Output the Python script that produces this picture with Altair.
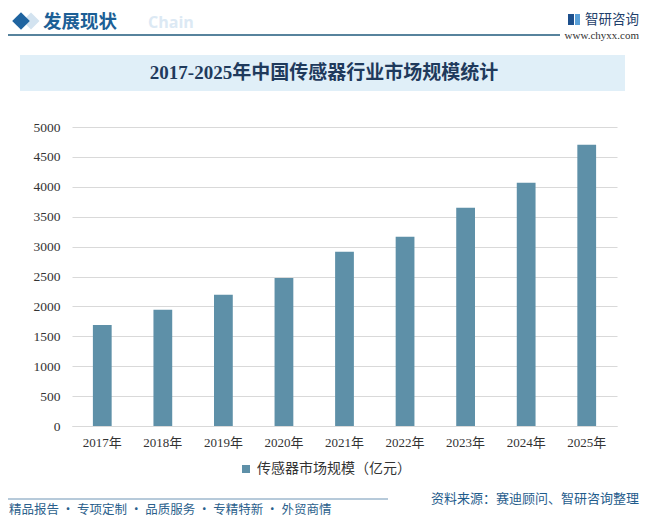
import altair as alt
import pandas as pd

years = ["2017年", "2018年", "2019年", "2020年", "2021年", "2022年", "2023年", "2024年", "2025年"]
values = [1690, 1942, 2193, 2477, 2912, 3164, 3649, 4068, 4704]
series_name = "传感器市场规模（亿元）"
y_ticks = [0, 500, 1000, 1500, 2000, 2500, 3000, 3500, 4000, 4500, 5000]

title_text = "2017-2025年中国传感器行业市场规模统计"
header_text = "发展现状"
header_ghost = "Chain"
brand_text = "智研咨询"
site_text = "www.chyxx.com"
source_text = "资料来源：赛迪顾问、智研咨询整理"
slogan_text = "精品报告 · 专项定制 · 品质服务 · 专精特新 · 外贸商情"

BAR = "#5e90a8"
SERIF = "Liberation Serif, Noto Sans CJK SC"
SANS = "Noto Sans CJK SC"

df = pd.DataFrame({"year": years, "value": values, "series": [series_name] * len(years)})
one = pd.DataFrame({"a": [0]})

W, H = 545, 299

bars = alt.Chart(df).mark_bar(color=BAR).encode(
    x=alt.X("year:N", sort=years, title=None,
            scale=alt.Scale(paddingInner=0.69, paddingOuter=0.345),
            axis=alt.Axis(labelAngle=0, labelFontSize=13, labelColor="#333333", labelFont=SERIF,
                          ticks=False, tickSize=0, labelPadding=10, domain=True,
                          domainColor="#d9d9d9", domainWidth=1, grid=False)),
    y=alt.Y("value:Q", title=None, scale=alt.Scale(domain=[0, 5000], nice=False),
            axis=alt.Axis(values=y_ticks, format="d", labelFontSize=13.5, labelColor="#333333",
                          labelFont=SERIF, ticks=False, tickSize=0, domain=False, labelPadding=12,
                          grid=True, gridColor="#d9d9d9", gridWidth=1)),
    color=alt.Color("series:N", scale=alt.Scale(range=[BAR]),
                    legend=alt.Legend(orient="none", legendX=167, legendY=335, title=None,
                                      symbolType="square", symbolSize=64, symbolStrokeWidth=0,
                                      labelFontSize=14, labelFont=SANS, labelColor="#333333",
                                      labelOffset=4)),
)

def txt(text, x, y, size, color, align="left", weight="normal", font=SANS):
    return alt.Chart(one).mark_text(text=text, align=align, baseline="middle", fontSize=size,
                                    color=color, fontWeight=weight, font=font).encode(
        x=alt.value(x), y=alt.value(y))

def rect(x, x2, y, y2, color):
    return alt.Chart(one).mark_rect(color=color).encode(
        x=alt.value(x), x2=alt.value(x2), y=alt.value(y), y2=alt.value(y2))

def rule(x, x2, y, color, w):
    return alt.Chart(one).mark_rule(color=color, strokeWidth=w).encode(
        x=alt.value(x), x2=alt.value(x2), y=alt.value(y))

def diamond(x, y, size, color):
    return alt.Chart(one).mark_point(shape="diamond", filled=True, size=size, color=color, opacity=1).encode(
        x=alt.value(x), y=alt.value(y))

# plot origin at page (72,127); visible page area is x 8..640, y 8..517
ox, oy = 72, 127
layers = [
    diamond(31 - ox, 21 - oy, 290, "#d3e3f0"),
    diamond(21 - ox, 21 - oy, 310, "#1f64a0"),
    txt(header_ghost, 148 - ox, 23 - oy, 16, "#dce9f4", weight="bold", font="Open Sans"),
    txt(header_text, 43 - ox, 22 - oy, 18.5, "#1c5f96", weight="bold"),
    rule(-ox, 560 - ox, 35 - oy, "#1f5a7c", 1.6),
    rect(568 - ox, 574 - ox, 14 - oy, 25 - oy, "#1d4f8c"),
    rect(575 - ox, 580 - ox, 14 - oy, 25 - oy, "#5aa0d8"),
    txt(brand_text, 585 - ox, 20 - oy, 13.5, "#1f3f6b"),
    txt(site_text, 639 - ox, 36 - oy, 11, "#333333", align="right", font="Liberation Serif"),
    rect(20 - ox, 625 - ox, 55 - oy, 91 - oy, "#e0eff8"),
    txt(title_text, 324 - ox, 73 - oy, 19, "#1f3a5c", align="center", weight="bold", font=SERIF),
    bars,
    rule(-ox, 388 - ox, 499 - oy, "#6f95b5", 1),
    txt(source_text, 639 - ox, 499 - oy, 13, "#1f5c8c", align="right"),
    txt(slogan_text, 9 - ox, 510 - oy, 12.5, "#2b5f8c"),
]

chart = alt.layer(*layers).properties(
    width=W, height=H,
    autosize=alt.AutoSizeParams(type="none"),
    padding={"left": 64, "top": 119, "right": 23, "bottom": 91},
    background="white",
).configure_view(stroke=None)

chart.save("out.html", embed_options={"renderer": "svg", "actions": False})
